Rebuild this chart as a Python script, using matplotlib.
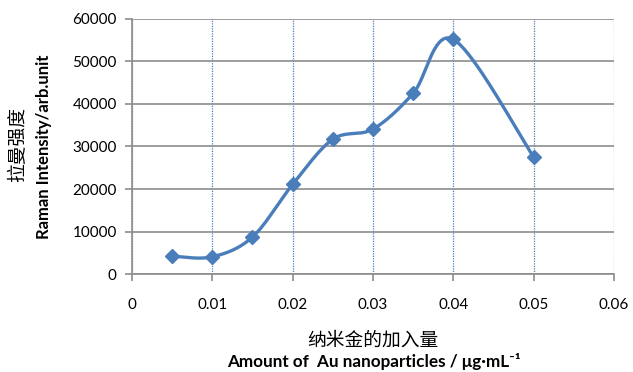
import numpy as np
import matplotlib
matplotlib.use("Agg")
import matplotlib.pyplot as plt

# values
amount = [0.005, 0.01, 0.015, 0.02, 0.025, 0.03, 0.035, 0.04, 0.05]
intensity = [4200, 4050, 8700, 21100, 31700, 34100, 42500, 55200, 27500]
x_ticks = [0, 0.01, 0.02, 0.03, 0.04, 0.05, 0.06]
x_tick_labels = ["0", "0.01", "0.02", "0.03", "0.04", "0.05", "0.06"]
y_ticks = [0, 10000, 20000, 30000, 40000, 50000, 60000]

blue = "#4A7EBB"
grey = "#8C8C8C"


def excel_smooth(xs, ys, sx, sy, n=40):
    # Excel-like smoothed line: Bezier segments, control points at 1/6 of neighbour diff
    px = np.array(xs) / sx
    py = np.array(ys) / sy
    out_x, out_y = [], []
    m = len(px)
    for i in range(m - 1):
        p0 = np.array([px[max(i - 1, 0)], py[max(i - 1, 0)]])
        p1 = np.array([px[i], py[i]])
        p2 = np.array([px[i + 1], py[i + 1]])
        p3 = np.array([px[min(i + 2, m - 1)], py[min(i + 2, m - 1)]])
        c1 = p1 + (p2 - p0) / 6
        c2 = p2 - (p3 - p1) / 6
        t = np.linspace(0, 1, n)[:, None]
        pts = ((1 - t) ** 3) * p1 + 3 * ((1 - t) ** 2) * t * c1 + 3 * (1 - t) * t ** 2 * c2 + t ** 3 * p2
        out_x.extend(pts[:, 0] * sx)
        out_y.extend(pts[:, 1] * sy)
    return out_x, out_y


fig = plt.figure(figsize=(6.33, 3.72), dpi=100)
ax = fig.add_axes([0.2085, 0.2634, 0.7615, 0.6856])

# scale so smoothing roughly happens in screen space
sx = 0.06 / 482
sy = 60000 / 255
cx, cy = excel_smooth(amount, intensity, sx, sy)
ax.plot(cx, cy, color=blue, lw=2.4, solid_capstyle="round", zorder=3)
ax.plot(amount, intensity, linestyle="none", marker="D", ms=7.5, color=blue, zorder=4)

ax.set_xlim(0, 0.06)
ax.set_ylim(0, 60000)
ax.set_xticks(x_ticks)
ax.set_xticklabels(x_tick_labels)
ax.set_yticks(y_ticks)

ax.yaxis.grid(True, color=grey, lw=1.2)
ax.xaxis.grid(True, color=blue, lw=0.9, linestyle=(0, (1, 1)))
ax.set_axisbelow(True)

for side in ["top", "right"]:
    ax.spines[side].set_visible(False)
for side in ["left", "bottom"]:
    ax.spines[side].set_color(grey)
    ax.spines[side].set_linewidth(1.2)

ax.tick_params(axis="both", direction="out", color=grey, width=1.2, length=5,
               labelsize=11, labelcolor="black")
ax.tick_params(axis="x", pad=12)
ax.tick_params(axis="y", pad=6)
for lab in ax.get_xticklabels() + ax.get_yticklabels():
    lab.set_family("Lato")

# axis titles
fig.text(373 / 633, 1 - 340 / 372, "纳米金的加入量", ha="center", va="center",
         family=["Noto Sans CJK SC", "DejaVu Sans"], fontsize=13.5)
fig.text(374 / 633, 1 - 362 / 372, "Amount of  Au nanoparticles / μg·mL⁻¹",
         ha="center", va="center", family=["Lato", "DejaVu Sans"],
         fontsize=12.3, fontweight="bold")
fig.text(18 / 633, 1 - 145 / 372, "拉曼强度", ha="center", va="center", rotation=90,
         family=["Noto Sans CJK SC", "DejaVu Sans"], fontsize=13.5)
fig.text(44 / 633, 1 - 147 / 372, "Raman Intensity/arb.unit", ha="center", va="center",
         rotation=90, family=["Lato", "DejaVu Sans"], fontsize=12, fontweight="bold")

fig.savefig("out.png", dpi=100)
